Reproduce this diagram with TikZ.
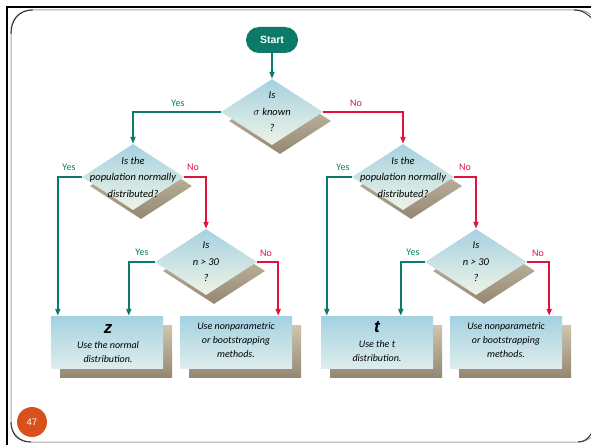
\documentclass[tikz,border=0pt]{standalone}
\usepackage{fontspec}
\newfontfamily\hand{Carlito}
\newfontfamily\hsans{Liberation Sans}
\usetikzlibrary{shapes.geometric,arrows.meta,calc}
\definecolor{teal1}{HTML}{0B7A68}
\definecolor{red1}{HTML}{E2123E}
\definecolor{diaTop}{HTML}{A6D2E0}
\definecolor{diaBot}{HTML}{EEF3E6}
\definecolor{shTop}{HTML}{CFC4AE}
\definecolor{shBot}{HTML}{948872}
\definecolor{boxTop}{HTML}{A4D1E1}
\definecolor{boxBot}{HTML}{DDEDEB}
\definecolor{pgnum}{HTML}{D8501C}
\begin{document}
\begin{tikzpicture}[x=1pt,y=-1pt,
  dia/.style={diamond, minimum width=102pt, minimum height=66pt, inner sep=0pt, draw=none, top color=diaTop, bottom color=diaBot},
  diash/.style={diamond, minimum width=102pt, minimum height=66pt, inner sep=0pt, draw=none, top color=shTop, bottom color=shBot},
  bx/.style={rectangle, minimum width=112pt, minimum height=52pt, inner sep=0pt, draw=none, top color=boxTop, bottom color=boxBot},
  bxsh/.style={rectangle, minimum width=112pt, minimum height=52pt, inner sep=0pt, draw=none, top color=shTop, bottom color=shBot},
  dtext/.style={align=center, inner sep=0pt, font=\hand\itshape\fontsize{10.5}{16.5}\selectfont},
  btext/.style={align=center, inner sep=0pt, font=\hand\itshape\fontsize{10}{14}\selectfont},
  big/.style={inner sep=0pt, font=\hsans\bfseries\itshape\fontsize{17}{17}\selectfont},
  ya/.style={draw=teal1, line width=1.8pt, -{Triangle[length=7pt,width=5pt]}},
  na/.style={draw=red1, line width=1.8pt, -{Triangle[length=7pt,width=5pt]}},
  ylab/.style={text=teal1, inner sep=0pt, font=\hand\fontsize{10}{10}\selectfont},
  nlab/.style={text=red1, inner sep=0pt, font=\hand\fontsize{10}{10}\selectfont},
  startn/.style={rectangle, rounded corners=13pt, minimum width=52pt, minimum height=26pt, fill=teal1, text=white, font=\hsans\bfseries\fontsize{10.5}{12}\selectfont}
]
\useasboundingbox (0,0) rectangle (591,444);
\fill[white] (0,0) rectangle (591,444);
% frame
\draw[line width=2.4pt, black] (7,446) -- (7,7) -- (595,7);
\draw[line width=1pt, black!35, rounded corners=20pt] (11,442) rectangle (598,10);
\draw[line width=0.9pt, black!85] (11,34) .. controls (11,21) and (18,10) .. (33,10);
\draw[line width=0.9pt, black!85] (11,422) .. controls (11,434) and (18,442) .. (31,442);
\draw[line width=0.9pt, black!85] (574,10) .. controls (583,10) and (590,15) .. (596,24);
\draw[line width=0.9pt, black!85] (578,442) .. controls (586,442) and (591,436) .. (595,426);

% start
\node[startn] (s) at (272,40) {Start};

% diamond shadows
\node[diash] (d1s) at (280,121) {};
\node[diash] (d2s) at (141,186) {};
\node[diash] (d3s) at (214,271) {};
\node[diash] (d4s) at (411,186) {};
\node[diash] (d5s) at (484,271) {};
% diamonds
\node[dia] (d1) at (272,112) {};
\node[dia] (d2) at (133,177) {};
\node[dia] (d3) at (206,262) {};
\node[dia] (d4) at (403,177) {};
\node[dia] (d5) at (476,262) {};
\node[dtext] (d1t) at (272,112) {Is\\$\sigma$ known\\?};
\node[dtext] (d2t) at (133,177) {Is the\\population normally\\distributed?};
\node[dtext] (d3t) at (206,262) {Is\\n > 30\\?};
\node[dtext] (d4t) at (403,177) {Is the\\population normally\\distributed?};
\node[dtext] (d5t) at (476,262) {Is\\n > 30\\?};

% box shadows
\node[bxsh] (b1s) at (116,351) {};
\node[bxsh] (b2s) at (245,351) {};
\node[bxsh] (b3s) at (386,351) {};
\node[bxsh] (b4s) at (515,351) {};
% boxes
\node[bx] (b1) at (107,342) {};
\node[bx] (b2) at (236,342) {};
\node[bx] (b3) at (377,342) {};
\node[bx] (b4) at (506,342) {};
\node[big] (b1z) at (108,329) {z};
\node[btext] (b1t) at (108,352) {Use the normal\\distribution.};
\node[btext] (b2t) at (236,340) {Use nonparametric\\or bootstrapping\\methods.};
\node[big] (b3z) at (377,327) {t};
\node[btext] (b3t) at (377,351) {Use the t\\distribution.};
\node[btext] (b4t) at (506,340) {Use nonparametric\\or bootstrapping\\methods.};

% connectors
\draw[ya] (s.south) -- (d1.north);
\draw[ya] (d1.west) -| (d2.north);
\draw[na] (d1.east) -| (d4.north);
\draw[ya] (d2.west) -| ([xshift=7pt]b1.north west);
\draw[na] (d2.east) -| (d3.north);
\draw[ya] (d3.west) -| ([xshift=78pt]b1.north west);
\draw[na] (d3.east) -| ([xshift=-14pt]b2.north east);
\draw[ya] (d4.west) -| ([xshift=6pt]b3.north west);
\draw[na] (d4.east) -| (d5.north);
\draw[ya] (d5.west) -| ([xshift=80pt]b3.north west);
\draw[na] (d5.east) -| ([xshift=-13pt]b4.north east);

% labels
\node[ylab] (l1) at (178,103) {Yes};
\node[nlab] (l2) at (356,103) {No};
\node[ylab] (l3) at (69,167) {Yes};
\node[nlab] (l4) at (193,167) {No};
\node[ylab] (l5) at (142,252) {Yes};
\node[nlab] (l6) at (266,253) {No};
\node[ylab] (l7) at (343,167) {Yes};
\node[nlab] (l8) at (465,167) {No};
\node[ylab] (l9) at (413,252) {Yes};
\node[nlab] (l10) at (538,253) {No};

% page number
\node[circle, fill=pgnum, minimum size=30pt, inner sep=0pt, text=white, font=\hsans\fontsize{9.5}{10}\selectfont] (pn) at (32,422) {47};
\end{tikzpicture}
\end{document}
